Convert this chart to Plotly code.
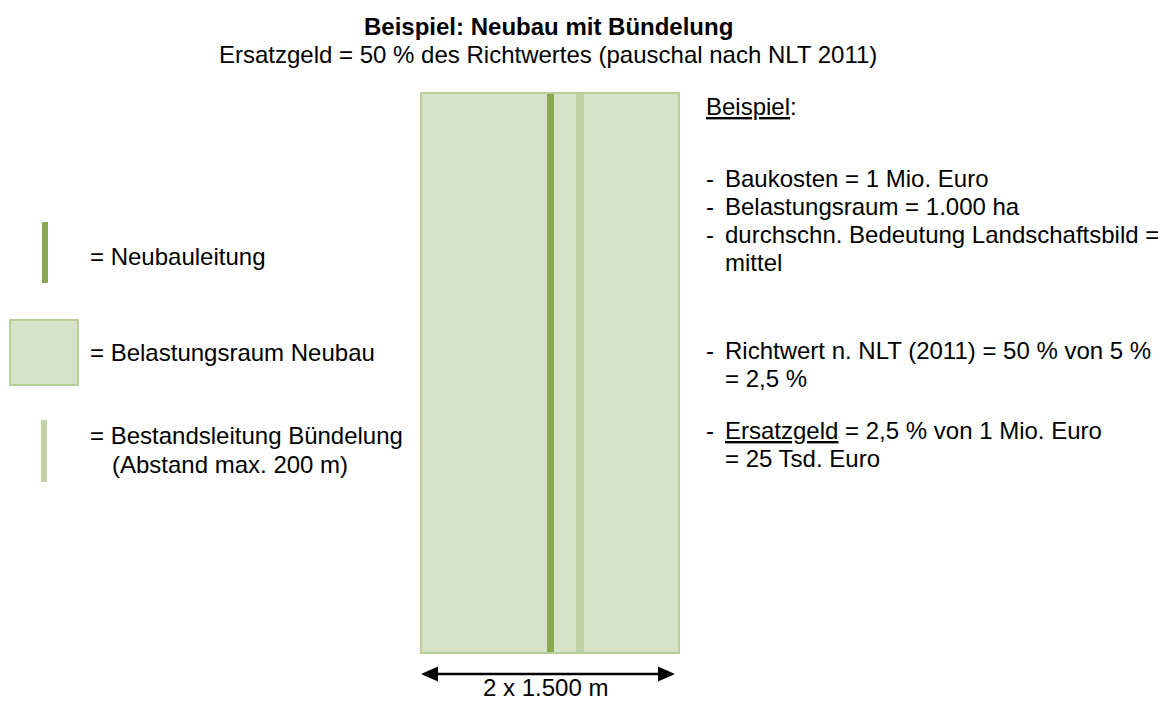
import plotly.graph_objects as go

# ---- content (text values) ----
title_main = "Beispiel: Neubau mit Bündelung"
title_sub = "Ersatzgeld = 50 % des Richtwertes (pauschal nach NLT 2011)"

legend_labels = ["= Neubauleitung", "= Belastungsraum Neubau",
                 "= Bestandsleitung Bündelung", "(Abstand max. 200 m)"]
legend_label_x = [88, 88, 88, 110]
legend_label_y = [256, 352, 435, 464]

example_heading = "<u>Beispiel</u>:"
example_lines = ["Baukosten = 1 Mio. Euro",
                 "Belastungsraum = 1.000 ha",
                 "durchschn. Bedeutung Landschaftsbild =",
                 "mittel",
                 "Richtwert n. NLT (2011) = 50 % von 5 %",
                 "= 2,5 %",
                 "<u>Ersatzgeld</u> = 2,5 % von 1 Mio. Euro",
                 "= 25 Tsd. Euro"]
example_bullet = [True, True, True, False, True, False, True, False]
example_y = [178, 206, 234, 262, 350, 378, 430, 458]

dimension_label = "2 x 1.500 m"

# ---- styles ----
FONT = "Liberation Sans, Arial, sans-serif"
FS = 24
area_fill = "#d8e2c8"
area_border = "#b8cd97"
new_line_col = "#8aa650"
old_line_col = "#c3d2a5"

W, H = 1158, 702

fig = go.Figure()
fig.add_trace(go.Scatter(x=[0, W], y=[0, H], mode="markers",
                         marker=dict(opacity=0), hoverinfo="skip", showlegend=False))

shapes = []
# main area
shapes.append(dict(type="rect", x0=421, x1=679, y0=93, y1=653,
                   fillcolor=area_fill, line=dict(color=area_border, width=2)))
shapes.append(dict(type="rect", x0=547, x1=554, y0=94, y1=652,
                   fillcolor=new_line_col, line=dict(width=0)))
shapes.append(dict(type="rect", x0=576, x1=584, y0=94, y1=652,
                   fillcolor=old_line_col, line=dict(width=0)))
# legend symbols
shapes.append(dict(type="rect", x0=42, x1=48, y0=222, y1=283,
                   fillcolor=new_line_col, line=dict(width=0)))
shapes.append(dict(type="rect", x0=10, x1=78, y0=320, y1=385,
                   fillcolor=area_fill, line=dict(color=area_border, width=2)))
shapes.append(dict(type="rect", x0=41, x1=47, y0=420, y1=482,
                   fillcolor=old_line_col, line=dict(width=0)))
# dimension arrow
shapes.append(dict(type="line", x0=432, x1=664, y0=674, y1=674,
                   line=dict(color="black", width=2.5)))
shapes.append(dict(type="path", path="M 421 674 L 438 666.5 L 438 681.5 Z",
                   fillcolor="black", line=dict(width=0)))
shapes.append(dict(type="path", path="M 675 674 L 658 666.5 L 658 681.5 Z",
                   fillcolor="black", line=dict(width=0)))
for s in shapes:
    s.setdefault("xref", "x")
    s.setdefault("yref", "y")
    s["layer"] = "below"

ann = []
def txt(x, y, t, anchor="left", bold=False):
    ann.append(dict(x=x, y=y, xref="x", yref="y", text=(f"<b>{t}</b>" if bold else t),
                    showarrow=False, xanchor=anchor, yanchor="middle",
                    font=dict(family=FONT, size=FS, color="black")))

txt(548, 26, title_main, "center", bold=True)
txt(548, 54, title_sub, "center")
for lbl, x, y in zip(legend_labels, legend_label_x, legend_label_y):
    txt(x, y, lbl)
txt(704, 106, example_heading)
for line, bullet, y in zip(example_lines, example_bullet, example_y):
    if bullet:
        txt(704, y, "-")
    txt(723, y, line)
txt(545, 687, dimension_label, "center")

fig.update_layout(
    width=W, height=H,
    margin=dict(l=0, r=0, t=0, b=0),
    paper_bgcolor="white", plot_bgcolor="white",
    xaxis=dict(range=[0, W], visible=False, fixedrange=True),
    yaxis=dict(range=[H, 0], visible=False, fixedrange=True),
    shapes=shapes, annotations=ann, showlegend=False,
)
fig.write_html("out.html",
               config={"displayModeBar": False},
               post_script="document.body.style.margin='0px';"
                           "document.body.style.overflow='hidden';")
